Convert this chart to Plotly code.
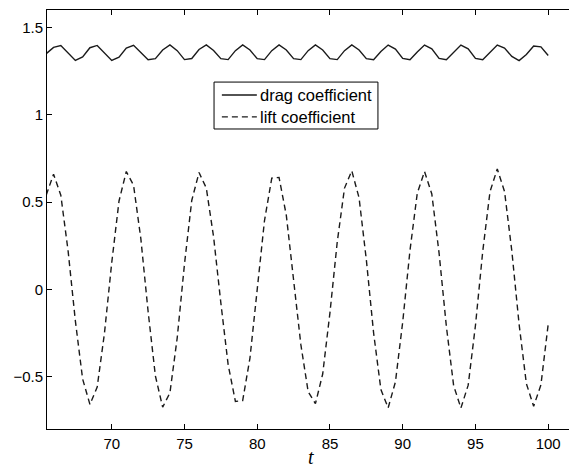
import plotly.graph_objects as go

# Sample times (s)
t = [65.5, 66.0, 66.5, 67.0, 67.5, 68.0, 68.5, 69.0, 69.5, 70.0,
     70.5, 71.0, 71.5, 72.0, 72.5, 73.0, 73.5, 74.0, 74.5, 75.0,
     75.5, 76.0, 76.5, 77.0, 77.5, 78.0, 78.5, 79.0, 79.5, 80.0,
     80.5, 81.0, 81.5, 82.0, 82.5, 83.0, 83.5, 84.0, 84.5, 85.0,
     85.5, 86.0, 86.5, 87.0, 87.5, 88.0, 88.5, 89.0, 89.5, 90.0,
     90.5, 91.0, 91.5, 92.0, 92.5, 93.0, 93.5, 94.0, 94.5, 95.0,
     95.5, 96.0, 96.5, 97.0, 97.5, 98.0, 98.5, 99.0, 99.5, 100.0]

drag = [1.350, 1.386, 1.396, 1.351, 1.311, 1.331, 1.384, 1.397, 1.352, 1.311,
        1.330, 1.382, 1.398, 1.359, 1.315, 1.321, 1.371, 1.400, 1.367, 1.316,
        1.322, 1.374, 1.400, 1.368, 1.321, 1.316, 1.367, 1.400, 1.371, 1.321,
        1.316, 1.367, 1.400, 1.371, 1.321, 1.316, 1.367, 1.400, 1.371, 1.321,
        1.316, 1.367, 1.400, 1.371, 1.321, 1.315, 1.362, 1.399, 1.376, 1.323,
        1.315, 1.360, 1.399, 1.378, 1.323, 1.315, 1.360, 1.399, 1.378, 1.323,
        1.315, 1.360, 1.399, 1.382, 1.334, 1.310, 1.345, 1.394, 1.389, 1.339]

lift = [0.540, 0.660, 0.539, 0.220, -0.181, -0.514, -0.659, -0.560, -0.251, 0.153,
        0.506, 0.675, 0.596, 0.290, -0.127, -0.496, -0.675, -0.593, -0.278, 0.145,
        0.509, 0.669, 0.580, 0.301, -0.078, -0.431, -0.642, -0.637, -0.394, 0.000,
        0.394, 0.637, 0.641, 0.424, 0.064, -0.317, -0.586, -0.655, -0.485, -0.133,
        0.271, 0.580, 0.679, 0.524, 0.169, -0.250, -0.574, -0.679, -0.530, -0.187,
        0.223, 0.550, 0.675, 0.546, 0.207, -0.212, -0.551, -0.680, -0.549, -0.207,
        0.217, 0.559, 0.690, 0.560, 0.220, -0.200, -0.540, -0.670, -0.547, -0.200]

x_ticks = [70, 75, 80, 85, 90, 95, 100]
y_ticks = [-0.5, 0, 0.5, 1, 1.5]
series_names = ["drag coefficient", "lift coefficient"]
series_dash = ["solid", "6px,4px"]

ink = "#1a1a1a"
font_family = "Liberation Sans, Arial, Helvetica, sans-serif"

fig = go.Figure()
for name, values, dash in zip(series_names, [drag, lift], series_dash):
    fig.add_trace(go.Scatter(
        x=t, y=values, mode="lines", name=name, showlegend=False,
        line=dict(color=ink, width=1.4, dash=dash),
    ))

axis_common = dict(
    showgrid=False, zeroline=False,
    showline=True, linecolor="black", linewidth=1,
    ticks="inside", ticklen=5, tickcolor="black", tickwidth=1,
    tickfont=dict(family=font_family, size=15, color="black"),
)

# Compact boxed legend (paper coordinates)
box_x0, box_x1, box_y0, box_y1 = 0.320, 0.634, 0.716, 0.828
row_y = [0.797, 0.745]
sample_x0, sample_x1, label_x = 0.335, 0.402, 0.404

shapes = [dict(type="rect", xref="paper", yref="paper",
               x0=box_x0, x1=box_x1, y0=box_y0, y1=box_y1,
               line=dict(color="black", width=1), fillcolor="white", layer="above")]
annotations = []
for name, dash, yy in zip(series_names, series_dash, row_y):
    shapes.append(dict(type="line", xref="paper", yref="paper",
                       x0=sample_x0, x1=sample_x1, y0=yy, y1=yy,
                       line=dict(color=ink, width=1.4, dash=dash), layer="above"))
    annotations.append(dict(text=name, xref="paper", yref="paper",
                            x=label_x, y=yy, xanchor="left", yanchor="middle",
                            showarrow=False,
                            font=dict(family=font_family, size=16.5, color="black")))

annotations.append(dict(
    text="<i>t</i>", xref="paper", yref="paper",
    x=0.506, y=0, yshift=-28, xanchor="center", yanchor="middle",
    showarrow=False,
    font=dict(family="Liberation Serif, DejaVu Serif, serif", size=20, color="black"),
))

fig.update_layout(
    width=569, height=468,
    margin=dict(l=47, r=0, t=10, b=39),
    paper_bgcolor="white", plot_bgcolor="white",
    font=dict(family=font_family, size=15, color="black"),
    xaxis=dict(range=[65.55, 101.43], tickvals=x_ticks, mirror="ticks",
               ticklabelstandoff=1, **axis_common),
    yaxis=dict(range=[-0.8, 1.6], tickvals=y_ticks,
               ticktext=["\u22120.5", "0", "0.5", "1", "1.5"], **axis_common),
    showlegend=False,
    shapes=shapes,
    annotations=annotations,
)

fig.write_html("out.html")
